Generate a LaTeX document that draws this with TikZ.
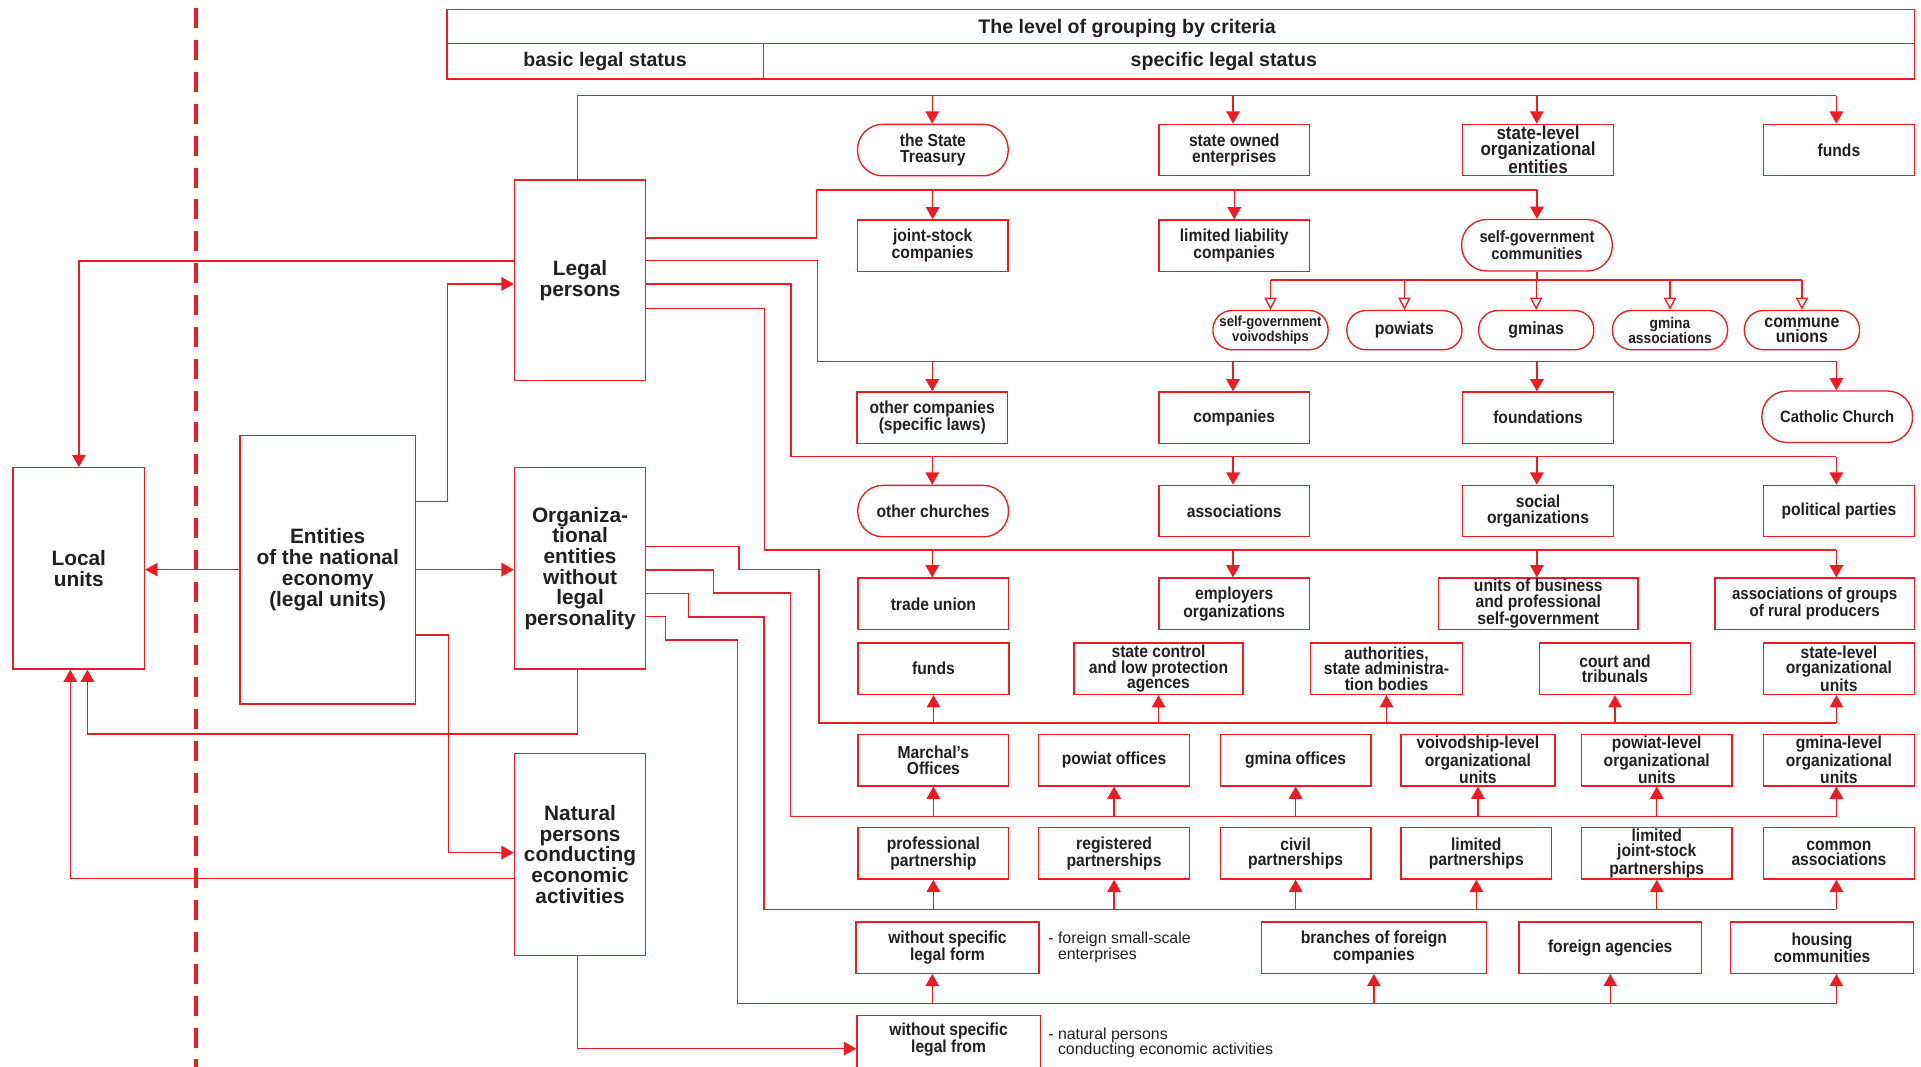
\documentclass[tikz,border=0pt]{standalone}
\usepackage{fontspec}
\setmainfont{Liberation Sans}
\newfontfamily\cnd{Liberation Sans}[FakeStretch=0.9]
\usetikzlibrary{arrows.meta}
\definecolor{rd}{RGB}{237,28,36}
\definecolor{tx}{RGB}{35,31,32}
\newcommand{\sfnt}[2]{\cnd\bfseries\fontsize{#1}{#2}\selectfont}
\begin{document}
\begin{tikzpicture}[x=1pt,y=-1pt,
  ln/.style={draw=rd, line width=1.1pt},
  arr/.style={ln, -{Triangle[length=10pt,width=11pt]}},
  oarr/.style={ln, -{Triangle[open,length=10pt,width=10pt]}},
  bx/.style={draw=rd, line width=1.1pt, inner sep=0pt, align=center, text=tx,
    font=\sfnt{14.2}{12.6}, minimum width=123pt, minimum height=42pt},
  stad/.style={bx, rounded corners=20.5pt},
  sstad/.style={stad, minimum width=94pt, minimum height=32pt, rounded corners=15.5pt,
    font=\sfnt{14.4}{12.5}},
  big/.style={bx, font=\bfseries\fontsize{17}{16.9}\selectfont},
  ann/.style={inner sep=0pt, align=left, text=tx, font=\fontsize{13}{12.8}\selectfont, anchor=west},
  hd/.style={inner sep=0pt, text=tx, font=\bfseries\fontsize{16}{16}\selectfont},
]
\fill[white] (0,0) rectangle (1568.1,870.2);
\useasboundingbox (0,0) rectangle (1568.1,870.2);

% dashed divider
\draw[rd, line width=3pt, dash pattern=on 16.3pt off 9.7pt] (160,6.8) -- (160,880);

% header table
\draw[ln] (365,7.6) rectangle (1562.6,64.5);
\draw[ln] (365,35.6) -- (1562.6,35.6);
\draw[ln] (623,35.6) -- (623,64.5);
\node[hd] (h1) at (920,23.3) {The level of grouping by criteria};
\node[hd] (h2) at (494,50) {basic legal status};
\node[hd] (h3) at (999,50) {specific legal status};

% big nodes
\node[big, minimum width=107.3pt, minimum height=164.3pt] (local) at (64.35,464) {Local\\units};
\node[big, minimum width=143pt, minimum height=219.2pt] (ent) at (267.5,465) {Entities\\of the national\\economy\\(legal units)};
\node[big, minimum width=107.2pt, minimum height=163.8pt] (legal) at (473.5,228.8) {Legal\\persons};
\node[big, minimum width=107.2pt, minimum height=164.3pt] (org) at (473.5,464) {Organiza-\\tional\\entities\\without\\legal\\personality};
\node[big, minimum width=107.2pt, minimum height=164.6pt] (nat) at (473.5,697.5) {Natural\\persons\\conducting\\economic\\activities};

% row 1
\node[stad] (st) at (761.5,122.5) {the State\\Treasury};
\node[bx] (soe) at (1007.5,122.5) {state owned\\enterprises};
\node[bx, font=\sfnt{15.4}{12.6}] (sloe) at (1255.5,122.5) {state-level\\organizational\\entities};
\node[bx] (fund1) at (1501.1,122.5) {funds};
% row 2
\node[bx] (jsc) at (761.3,200.6) {joint-stock\\companies};
\node[bx] (llc) at (1007.5,200.6) {limited liability\\companies};
\node[stad, font=\sfnt{13.4}{12.4}] (sgc) at (1254.6,200.2) {self-government\\communities};
% row 2b
\node[sstad, font=\sfnt{11.9}{10.6}] (sgv) at (1037.1,269.5) {self-government\\voivodships};
\node[sstad] (pow) at (1146.4,269.5) {powiats};
\node[sstad] (gmi) at (1254,269.5) {gminas};
\node[sstad, font=\sfnt{12.5}{12.2}] (gma) at (1363.2,269.5) {gmina\\associations};
\node[sstad] (cu) at (1470.9,269.5) {commune\\unions};
% row 3
\node[bx] (ocsl) at (761,341) {other companies\\(specific laws)};
\node[bx] (comp) at (1007.5,341) {companies};
\node[bx] (fdn) at (1255.5,341) {foundations};
\node[stad, font=\sfnt{13.4}{12.4}] (cath) at (1499.7,340.2) {Catholic Church};
% row 4
\node[stad] (och) at (761.7,417.2) {other churches};
\node[bx] (assoc) at (1007.5,417.2) {associations};
\node[bx] (soc) at (1255.5,417.2) {social\\organizations};
\node[bx] (pp) at (1501.1,417.2) {political parties};
% row 5
\node[bx] (tu) at (761.9,492.9) {trade union};
\node[bx] (emp) at (1007.5,492.9) {employers\\organizations};
\node[bx, minimum width=163pt] (ubp) at (1255.7,492.9) {units of business\\and professional\\self-government};
\node[bx, minimum width=162.7pt, font=\sfnt{13.7}{12.6}] (agrp) at (1481.3,492.9) {associations of groups\\of rural producers};
% row 6
\node[bx] (fund2) at (762,545.9) {funds};
\node[bx, minimum width=138pt] (scl) at (945.7,545.9) {state control\\and low protection\\agences};
\node[bx, minimum width=123.7pt] (auth) at (1131.8,545.9) {authorities,\\state administra-\\tion bodies};
\node[bx] (court) at (1318.3,545.9) {court and\\tribunals};
\node[bx] (slou) at (1501.1,545.9) {state-level\\organizational\\units};
% row 7
\node[bx] (mo) at (761.9,620.5) {Marchal’s\\Offices};
\node[bx] (po) at (909.4,620.5) {powiat offices};
\node[bx] (go) at (1057.6,620.5) {gmina offices};
\node[bx, minimum width=125.6pt] (vlou) at (1206.4,620.5) {voivodship-level\\organizational\\units};
\node[bx] (plou) at (1352.4,620.5) {powiat-level\\organizational\\units};
\node[bx] (glou) at (1501.1,620.5) {gmina-level\\organizational\\units};
% row 8
\node[bx] (pp2) at (761.9,696.6) {professional\\partnership};
\node[bx] (rp) at (909.4,696.6) {registered\\partnerships};
\node[bx] (cp) at (1057.6,696.6) {civil\\partnerships};
\node[bx] (lp) at (1205.1,696.6) {limited\\partnerships};
\node[bx] (ljsp) at (1352.4,696.6) {limited\\joint-stock\\partnerships};
\node[bx] (ca) at (1501.1,696.6) {common\\associations};
% row 9
\node[bx, minimum width=149.4pt] (wsf1) at (773.4,773.5) {without specific\\legal form};
\node[ann] (ann1) at (855.5,773.6) {- foreign small-scale\\\phantom{- }enterprises};
\node[bx, minimum width=183.5pt] (bfc) at (1121.5,773.5) {branches of foreign\\companies};
\node[bx, minimum width=149pt] (fa) at (1314.4,773.5) {foreign agencies};
\node[bx, minimum width=149.3pt] (hc) at (1487.3,773.5) {housing\\communities};
% row 10
\node[bx, minimum width=149.7pt, minimum height=54pt] (wsf2) at (774.3,856) {};
\node[inner sep=0pt, align=center, text=tx, font=\sfnt{14.2}{12.6}] (wsf2t) at ([yshift=7.5pt]wsf2.center) {without specific\\legal from};
\node[ann] (ann2) at (855.5,851.3) {- natural persons\\\phantom{- }conducting economic activities};

% helper coordinates
\coordinate (c1) at (761,0);
\coordinate (c2) at (1006.5,0);
\coordinate (c3) at (1254.5,0);
\coordinate (c4) at (1499,0);
\coordinate (cv) at (471.5,0);
\coordinate (bA) at (0,78);
\coordinate (bB) at (0,155);
\coordinate (bS) at (0,228.5);
\coordinate (bC) at (0,294.9);
\coordinate (bD) at (0,372.7);
\coordinate (bE) at (0,449);
\coordinate (bF) at (0,590.2);
\coordinate (bG) at (0,666.6);
\coordinate (bH) at (0,742.2);
\coordinate (bI) at (0,819.2);
\coordinate (bL) at (0,599.2);
\coordinate (ls1) at ([xshift=7pt]local.south);
\coordinate (ls2) at ([xshift=-7pt]local.south);

% left part connectors
\draw[arr] ([yshift=15.8pt]legal.west) -| (local.north);
\draw[arr] ([yshift=55.5pt]ent.east) -- ++(26,0) |- ([yshift=-3pt]legal.west);
\draw[arr] (ent.west) -- (ent.west -| local.east);
\draw[arr] (ent.east) -- (ent.east -| org.west);
\draw[arr] ([yshift=-53.3pt]ent.east) -- ++(26.3,0) |- ([yshift=1.5pt]nat.west);
\draw[arr] (cv |- org.south) |- (ls1 |- bL) -- (ls1);
\draw[arr] ([yshift=-19.7pt]nat.west) -| (ls2);
\draw[arr] (cv |- nat.south) |- (wsf2.west);

% legal persons -> top rows
\draw[ln] (cv |- legal.north) -- (cv |- bA) -- (c4 |- bA);
\foreach \n/\c in {st/c1,soe/c2,sloe/c3,fund1/c4} \draw[arr] (\c |- bA) -- (\c |- \n.north);
\draw[ln] ([yshift=34.5pt]legal.east) -| (666.6,155) -- (sgc.north |- bB);
\foreach \n in {jsc,llc,sgc} \draw[arr] (\n.north |- bB) -- (\n.north);
\draw[ln] (sgc.south) -- (sgc.south |- bS);
\draw[ln] (sgv.north |- bS) -- (cu.north |- bS);
\foreach \n in {sgv,pow,gmi,gma,cu} \draw[oarr] (\n.north |- bS) -- (\n.north);
\draw[ln] ([yshift=16pt]legal.east) -| (667.5,294.9) -- (c4 |- bC);
\foreach \n/\c in {ocsl/c1,comp/c2,fdn/c3,cath/c4} \draw[arr] (\c |- bC) -- (\c |- \n.north);
\draw[ln] ([yshift=-3pt]legal.east) -| (645.7,372.7) -- (c4 |- bD);
\foreach \n/\c in {och/c1,assoc/c2,soc/c3,pp/c4} \draw[arr] (\c |- bD) -- (\c |- \n.north);
\draw[ln] ([yshift=-22.9pt]legal.east) -| (623.9,449) -- (c4 |- bE);
\foreach \n/\c in {tu/c1,emp/c2,ubp/c3,agrp/c4} \draw[arr] (\c |- bE) -- (\c |- \n.north);

% organizational entities -> bottom rows
\draw[ln] ([yshift=18pt]org.east) -- (603.3,446) |- (668.4,464.8) |- (c4 |- bF);
\foreach \n in {fund2,scl,auth,court} \draw[arr] (\n.south |- bF) -- (\n.south);
\draw[arr] (c4 |- bF) -- (c4 |- slou.south);
\draw[ln] ([yshift=-1.3pt]org.east) -- (582.6,465.3) |- (645.1,484.1) |- (c4 |- bG);
\foreach \n in {mo,po,go,vlou,plou} \draw[arr] (\n.south |- bG) -- (\n.south);
\draw[arr] (c4 |- bG) -- (c4 |- glou.south);
\draw[ln] ([yshift=-20.6pt]org.east) -- (561.9,484.6) |- (623.7,503.7) |- (c4 |- bH);
\foreach \n in {pp2,rp,cp,lp,ljsp} \draw[arr] (\n.south |- bH) -- (\n.south);
\draw[arr] (c4 |- bH) -- (c4 |- ca.south);
\draw[ln] ([yshift=-39.4pt]org.east) -- (543.1,503.4) |- (602,522.4) |- (c4 |- bI);
\draw[arr] (c1 |- bI) -- (c1 |- wsf1.south);
\foreach \n in {bfc,fa} \draw[arr] (\n.south |- bI) -- (\n.south);
\draw[arr] (c4 |- bI) -- (c4 |- hc.south);
\end{tikzpicture}
\end{document}
